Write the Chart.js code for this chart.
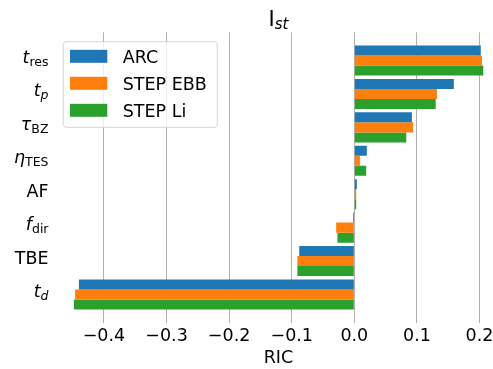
<!DOCTYPE html>
<html>
<head>
<meta charset="utf-8">
<script src="https://cdn.jsdelivr.net/npm/chart.js@4/dist/chart.umd.min.js"></script>
<style>
  html, body { margin: 0; padding: 0; background: #fff; overflow: hidden; }
  #wrap { width: 504px; height: 369px; }
</style>
</head>
<body>
<div id="wrap"><canvas id="c" width="504" height="369"></canvas></div>
<script>
// Parameter labels (main symbol + subscript, with italic flags)
const categories = [
  [{ t: 't', it: true }, { t: 'res', it: false, sub: true }],
  [{ t: 't', it: true }, { t: 'p', it: true, sub: true }],
  [{ t: 'τ', it: true }, { t: 'BZ', it: false, sub: true }],
  [{ t: 'η', it: true }, { t: 'TES', it: false, sub: true }],
  [{ t: 'AF', it: false }],
  [{ t: 'f', it: true }, { t: 'dir', it: false, sub: true }],
  [{ t: 'TBE', it: false }],
  [{ t: 't', it: true }, { t: 'd', it: true, sub: true }]
];

const seriesNames = ['ARC', 'STEP EBB', 'STEP Li'];
const seriesColors = ['#1f77b4', '#ff7f0e', '#2ca02c'];

const arcValues     = [0.202, 0.159, 0.092, 0.020, 0.004, -0.002, -0.088, -0.440];
const stepEbbValues = [0.204, 0.132, 0.094, 0.009, 0.003, -0.029, -0.091, -0.446];
const stepLiValues  = [0.206, 0.130, 0.083, 0.019, 0.003, -0.027, -0.091, -0.448];

const xTickValues = [-0.4, -0.3, -0.2, -0.1, 0.0, 0.1, 0.2];
const xTickLabels = ['−0.4', '−0.3', '−0.2', '−0.1', '0.0', '0.1', '0.2'];

const titleParts = [{ t: 'I', it: false }, { t: 'st', it: true, sub: true }];
const xAxisTitle = 'RIC';

const FONT = '"DejaVu Sans", Verdana, sans-serif';

function fontFor(part, size) {
  return (part.it ? 'italic ' : '') + size + 'px ' + FONT;
}

// Draws a label built from main text and subscripts, aligned right or centered
function drawRich(ctx, parts, x, baseline, align, size, subSize, subDrop) {
  let total = 0;
  const widths = parts.map(p => {
    ctx.font = fontFor(p, p.sub ? subSize : size);
    const w = ctx.measureText(p.t).width;
    total += w;
    return w;
  });
  let cx = align === 'right' ? x - total : x - total / 2;
  ctx.textAlign = 'left';
  ctx.textBaseline = 'alphabetic';
  parts.forEach((p, i) => {
    ctx.font = fontFor(p, p.sub ? subSize : size);
    ctx.fillText(p.t, cx, baseline + (p.sub ? subDrop : 0));
    cx += widths[i];
  });
}

const textPlugin = {
  id: 'textPlugin',
  afterDraw(chart) {
    const ctx = chart.ctx;
    const area = chart.chartArea;
    const xs = chart.scales.x;
    const ys = chart.scales.y;
    ctx.save();
    ctx.fillStyle = '#000';

    // category labels on the left
    categories.forEach((parts, i) => {
      const y = ys.getPixelForValue(i);
      drawRich(ctx, parts, 48.5, y + 2.5, 'right', 17.5, 12.5, 3);
    });

    // x tick labels
    ctx.font = '17.5px ' + FONT;
    ctx.textAlign = 'center';
    ctx.textBaseline = 'alphabetic';
    xTickValues.forEach((v, i) => {
      ctx.fillText(xTickLabels[i], xs.getPixelForValue(v), 341);
    });

    const midX = (area.left + area.right) / 2;
    // x axis title
    ctx.fillText(xAxisTitle, midX, 363);

    // chart title
    drawRich(ctx, titleParts, midX, 25.5, 'center', 21, 15, 3.5);

    // legend
    const lx = 63.3, ly = 41.7, lw = 154, lh = 85.6;
    ctx.beginPath();
    ctx.roundRect(lx, ly, lw, lh, 3);
    ctx.fillStyle = 'rgba(255,255,255,0.8)';
    ctx.fill();
    ctx.strokeStyle = 'rgba(204,204,204,0.8)';
    ctx.lineWidth = 1;
    ctx.stroke();
    chart.data.datasets.forEach((ds, i) => {
      const cy = 56.3 + i * 27;
      ctx.fillStyle = ds.backgroundColor;
      ctx.fillRect(70, cy - 6.5, 37.3, 13);
      ctx.fillStyle = '#000';
      ctx.font = '17.5px ' + FONT;
      ctx.textAlign = 'left';
      ctx.fillText(ds.label, 122.7, cy + 6.4);
    });
    ctx.restore();
  }
};

const valueSets = [arcValues, stepEbbValues, stepLiValues];

new Chart(document.getElementById('c'), {
  type: 'bar',
  data: {
    datasets: valueSets.map((vals, k) => ({
      label: seriesNames[k],
      data: vals.map((v, i) => ({ x: v, y: i })),
      backgroundColor: seriesColors[k],
      borderWidth: 0,
      categoryPercentage: 0.9,
      barPercentage: 1.0
    }))
  },
  options: {
    indexAxis: 'y',
    responsive: false,
    animation: false,
    devicePixelRatio: 1,
    layout: { padding: { left: 53.4, right: 0.5, top: 32.3, bottom: 46.3 } },
    plugins: {
      legend: { display: false },
      title: { display: false },
      tooltip: { enabled: false }
    },
    scales: {
      x: {
        type: 'linear',
        min: -0.4807,
        max: 0.2383,
        bounds: 'data',
        afterBuildTicks: s => { s.ticks = xTickValues.map(v => ({ value: v })); },
        afterFit: s => { s.height = 0; },
        ticks: { display: false },
        grid: { color: '#b0b0b0', lineWidth: 1, drawTicks: false },
        border: { display: false }
      },
      y: {
        type: 'linear',
        display: false,
        reverse: true,
        offset: false,
        bounds: 'data',
        grace: 0,
        min: -0.845,
        max: 7.845,
        afterBuildTicks: s => { s.ticks = categories.map((c, i) => ({ value: i })); },
        afterFit: s => { s.width = 0; }
      }
    }
  },
  plugins: [textPlugin]
});
</script>
</body>
</html>
